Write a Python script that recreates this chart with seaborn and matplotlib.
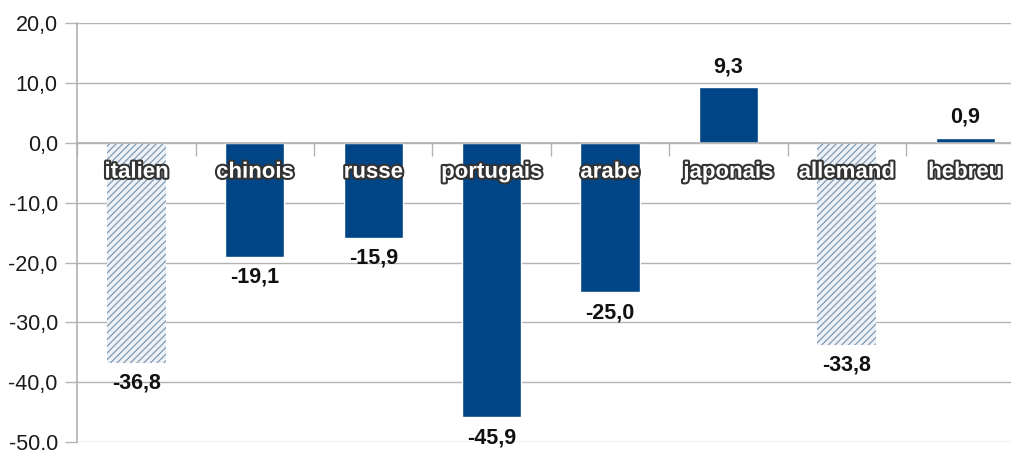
import matplotlib
matplotlib.use("Agg")
import matplotlib.pyplot as plt
import matplotlib.patheffects as pe
import seaborn as sns
import numpy as np

categories = ["italien", "chinois", "russe", "portugais", "arabe", "japonais", "allemand", "hebreu"]
values = [-36.8, -19.1, -15.9, -45.9, -25.0, 9.3, -33.8, 0.9]
hatched = [True, False, False, False, False, False, True, False]
y_ticks = [20, 10, 0, -10, -20, -30, -40, -50]

BLUE = "#004586"
HATCH = "#7f9bb6"
GRID = "#b3b3b3"

sns.set_theme(style="white")
plt.rcParams["font.family"] = ["Liberation Sans", "DejaVu Sans"]
plt.rcParams["hatch.linewidth"] = 0.9

fig = plt.figure(figsize=(10.11, 4.5), dpi=100)
ax = fig.add_axes([77.3 / 1011, 8 / 450, 947 / 1011, 418.7 / 450])

sns.barplot(x=categories, y=values, hue=categories, palette=[BLUE] * len(categories),
            legend=False, width=0.5, saturation=1, ax=ax)

for bar, h in zip(ax.patches, hatched):
    if h:
        bar.set_facecolor("#eef2f6")
        bar.set_edgecolor(HATCH)
        bar.set_hatch("/////")
        bar.set_linewidth(0)

ax.set_xlim(-0.5, len(categories) - 0.5)
ax.set_ylim(-50, 20)
ax.set_yticks(y_ticks)
ax.set_yticklabels([f"{t:.1f}".replace(".", ",") for t in y_ticks], fontsize=15.5, color="#1a1a1a")
ax.yaxis.grid(True, color=GRID, linewidth=1)
ax.set_axisbelow(True)
ax.tick_params(axis="y", length=9, width=1, color=GRID, pad=5, left=True)

# x axis sits on zero with ticks between categories
ax.spines["bottom"].set_position(("data", 0))
ax.spines["bottom"].set_color(GRID)
ax.spines["left"].set_color(GRID)
ax.spines["top"].set_visible(False)
ax.spines["right"].set_visible(False)
ax.set_xticks([])
ax.set_xticks(np.arange(len(categories) + 1) - 0.5, minor=True)
ax.tick_params(axis="x", which="minor", length=9, width=1, color=GRID, bottom=True, direction="out")
ax.set_xlabel("")
ax.set_ylabel("")

for i, (cat, v) in enumerate(zip(categories, values)):
    ax.text(i, -4.9, cat, ha="center", va="center", fontsize=16, fontweight="bold", color="white",
            path_effects=[pe.Stroke(linewidth=3, foreground="#333333"), pe.Normal()])
    off = 14.5 if v >= 0 else -14.5
    ax.annotate(f"{v:.1f}".replace(".", ","), (i, v), xytext=(0, off), textcoords="offset points",
                ha="center", va="center", fontsize=15.5, fontweight="bold", color="#111111",
                annotation_clip=False)

fig.savefig("out.png", dpi=100)
